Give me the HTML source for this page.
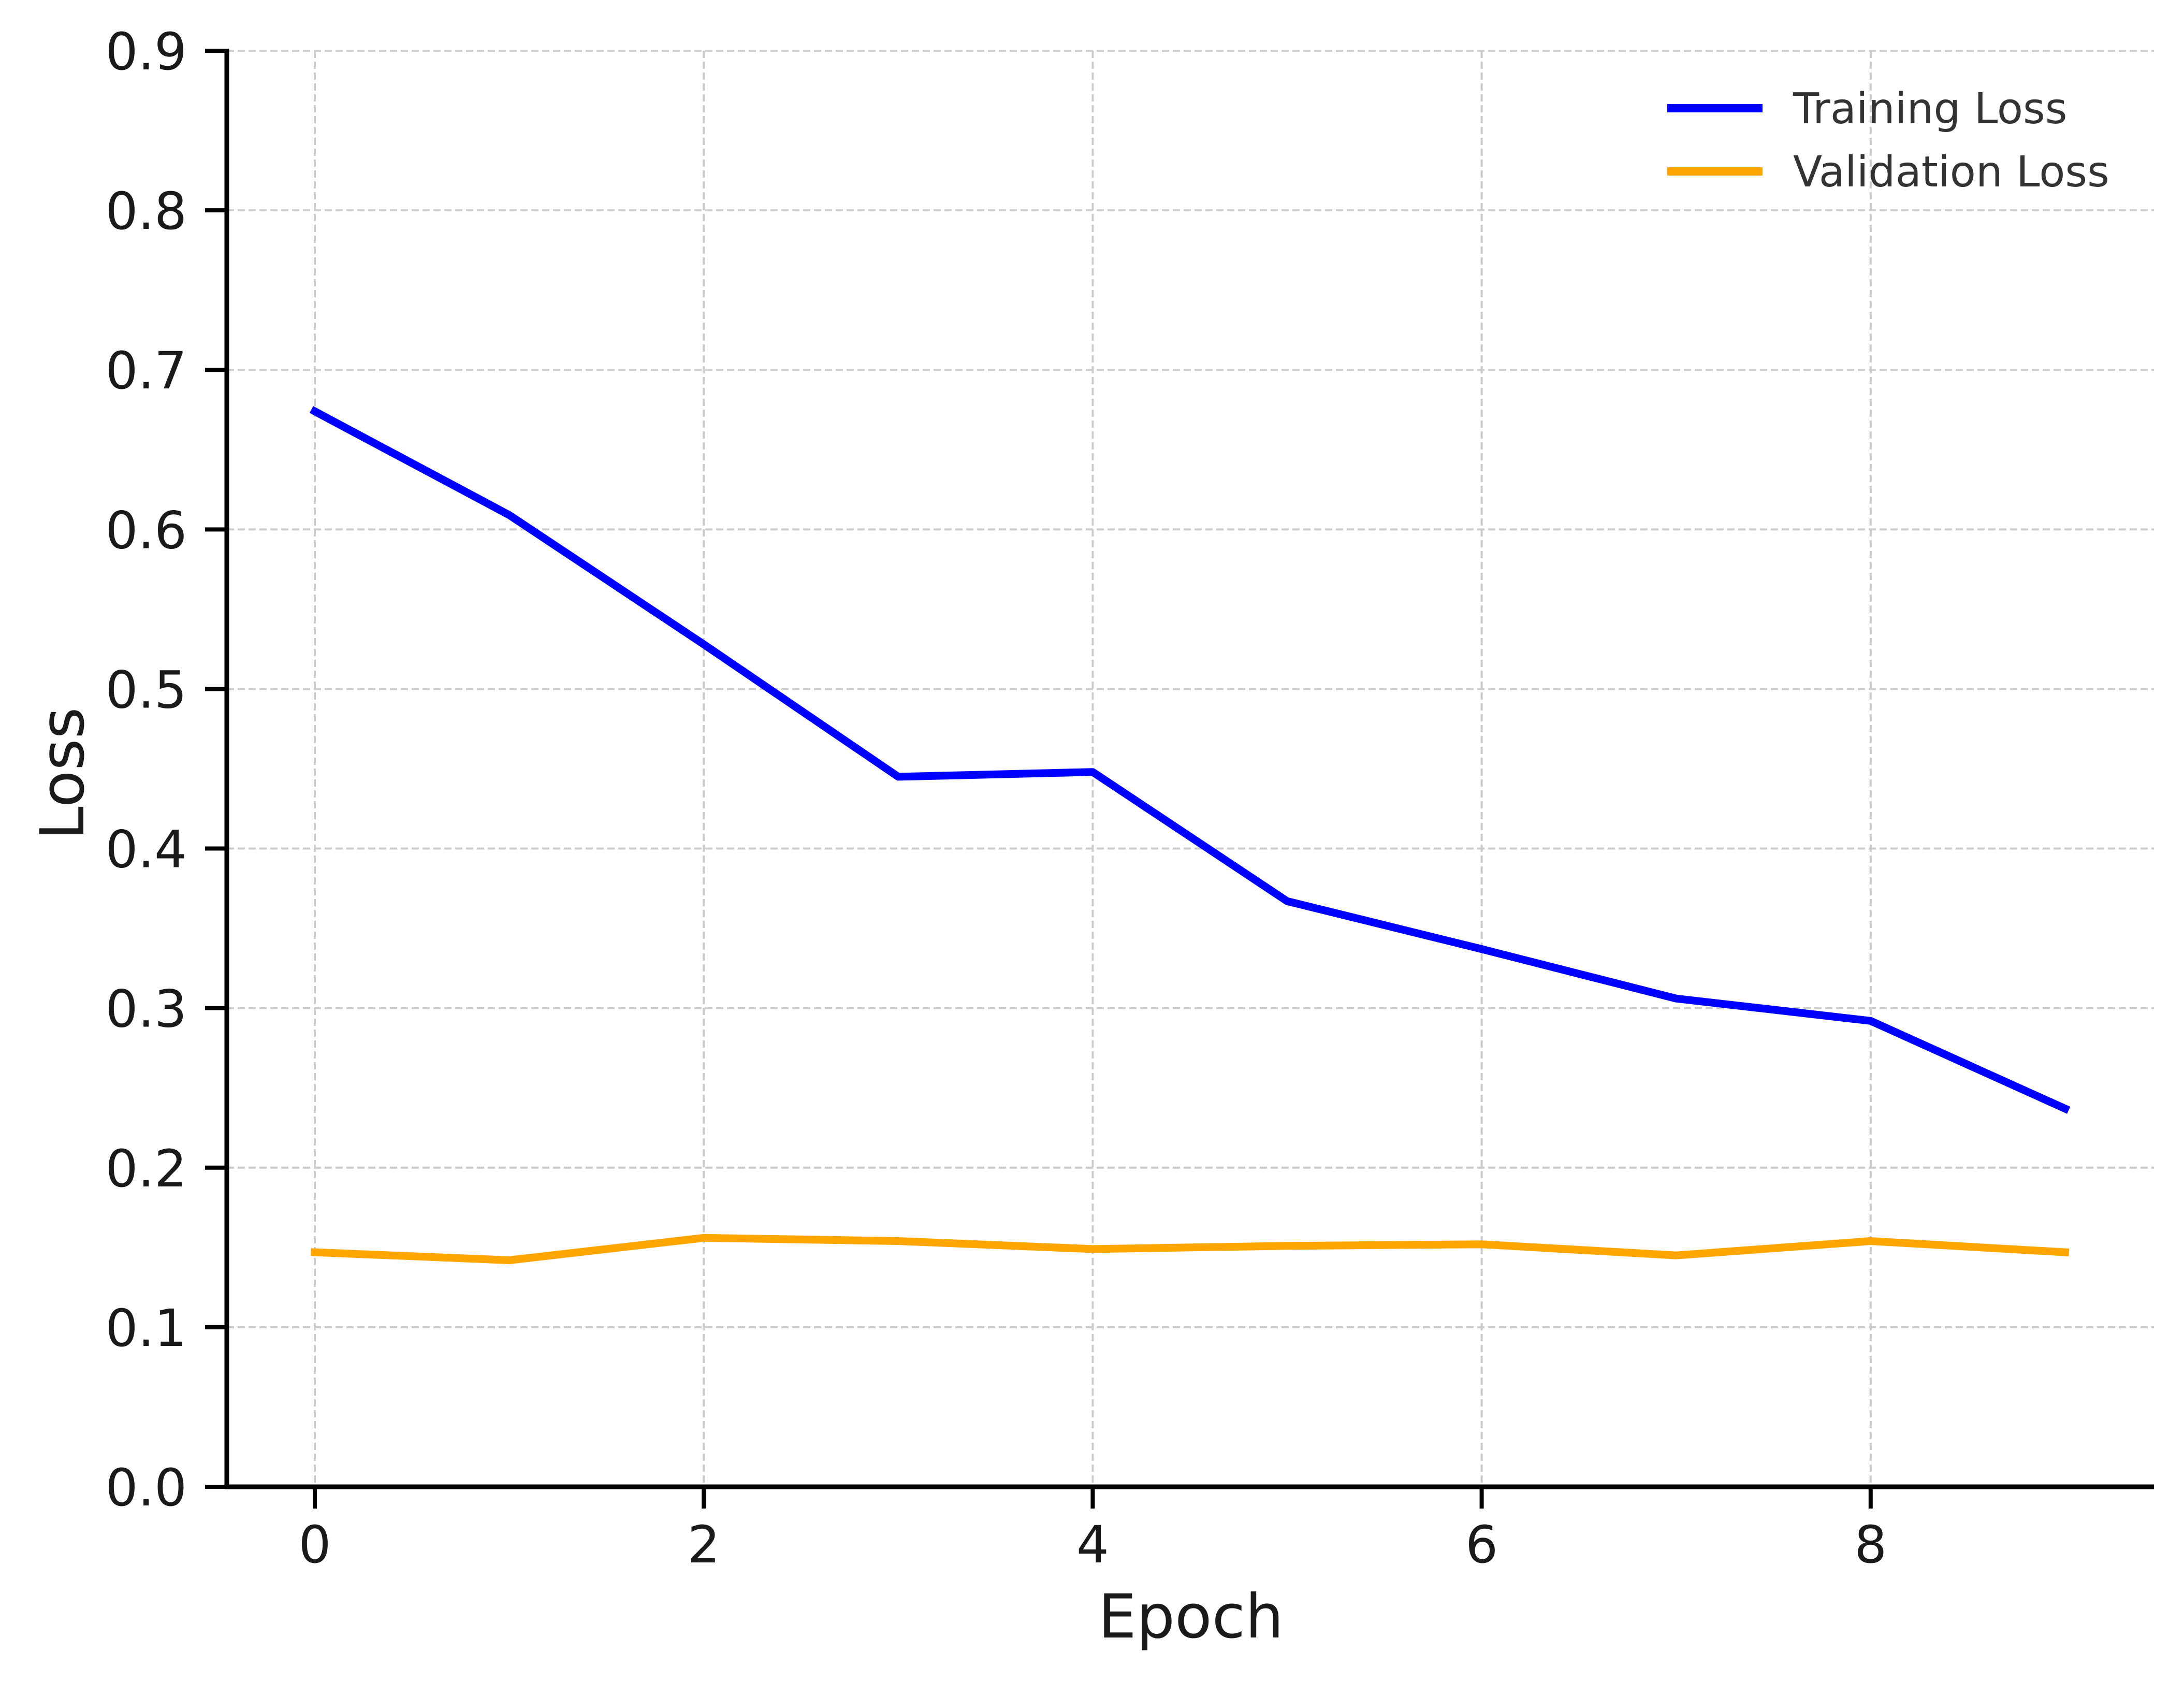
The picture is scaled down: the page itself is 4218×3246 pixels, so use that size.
<!DOCTYPE html>
<html><head><meta charset="utf-8"><style>html,body{margin:0;padding:0;background:#fff}svg{display:block}</style></head>
<body>
<svg id="chart" width="4218" height="3246" viewBox="0 0 4218 3246" xmlns="http://www.w3.org/2000/svg" font-family="'DejaVu Sans','Liberation Sans',sans-serif">
<rect width="4218" height="3246" fill="#fff"/>
<g id="grid"></g>
<g id="series"></g>
<g id="axes"></g>
<text x="2300" y="3162" font-size="117" fill="#1a1a1a" text-anchor="middle">Epoch</text>
<text x="0" y="0" font-size="117" fill="#1a1a1a" text-anchor="middle" transform="translate(161,1494) rotate(-90)">Loss</text>
<g>
  <line x1="3220" y1="209" x2="3404" y2="209" stroke="#0000ff" stroke-width="16"/>
  <text x="3463" y="238" font-size="82" fill="#333">Training Loss</text>
  <line x1="3220" y1="331" x2="3404" y2="331" stroke="#ffa500" stroke-width="16"/>
  <text x="3463" y="360" font-size="82" fill="#333">Validation Loss</text>
</g>
<script>
const epochs = [0,1,2,3,4,5,6,7,8,9];
const trainingLoss = [0.674,0.609,0.528,0.445,0.448,0.367,0.337,0.306,0.292,0.237];
const validationLoss = [0.147,0.142,0.156,0.154,0.149,0.151,0.152,0.145,0.154,0.147];
const xTicks = [0,2,4,6,8];
const yTicks = [0,0.1,0.2,0.3,0.4,0.5,0.6,0.7,0.8,0.9];

const NS = 'http://www.w3.org/2000/svg';
const L = 438, R = 4160, T = 98, B = 2871;
const yMin = 0, yMax = 0.9;
const X = v => 608 + v * 375.6;
const Y = v => B - (v - yMin) / (yMax - yMin) * (B - T);
function mk(tag, attrs, parent){const e=document.createElementNS(NS,tag);for(const k in attrs)e.setAttribute(k,attrs[k]);parent.appendChild(e);return e;}
const grid = document.getElementById('grid'), axes = document.getElementById('axes'), series = document.getElementById('series');

xTicks.forEach(t => {
  const g = mk('line',{x1:X(t),y1:T,x2:X(t),y2:B,stroke:'#cccccc','stroke-width':4,'stroke-dasharray':'14 7'},grid);
  
  
  const tk = mk('line',{x1:X(t),y1:B,x2:X(t),y2:B+42,stroke:'#000','stroke-width':8},axes);
  
  
  const lb = mk('text',{x:X(t),y:3017,'font-size':99,fill:'#1a1a1a','text-anchor':'middle'},axes);
  lb.textContent = String(t);
  
  
});
yTicks.forEach(t => {
  const y = Y(t);
  if (t > 0) {
    const g = mk('line',{x1:L,y1:y,x2:R,y2:y,stroke:'#cccccc','stroke-width':4,'stroke-dasharray':'14 7'},grid);
    
    
  }
  const tk = mk('line',{x1:L-42,y1:y,x2:L,y2:y,stroke:'#000','stroke-width':8},axes);
  
  
  const lb = mk('text',{x:361,y:y+36,'font-size':99,fill:'#1a1a1a','text-anchor':'end'},axes);
  lb.textContent = t.toFixed(1);
  
  
});
const ya = mk('line',{x1:L,y1:T-4,x2:L,y2:B+4,stroke:'#000','stroke-width':9},axes);


const xa = mk('line',{x1:L-4,y1:B,x2:R,y2:B,stroke:'#000','stroke-width':9},axes);



function drawLine(vals, color, name){
  const pts = vals.map((v,i)=>X(epochs[i]).toFixed(1)+','+Y(v).toFixed(1)).join(' ');
  const p = mk('polyline',{points:pts,fill:'none',stroke:color,'stroke-width':15,'stroke-linejoin':'round','stroke-linecap':'square'},series);
  
  
}
drawLine(trainingLoss,'#0000ff','training-loss-line');
drawLine(validationLoss,'#ffa500','validation-loss-line');
</script>
</svg>
</body></html>
